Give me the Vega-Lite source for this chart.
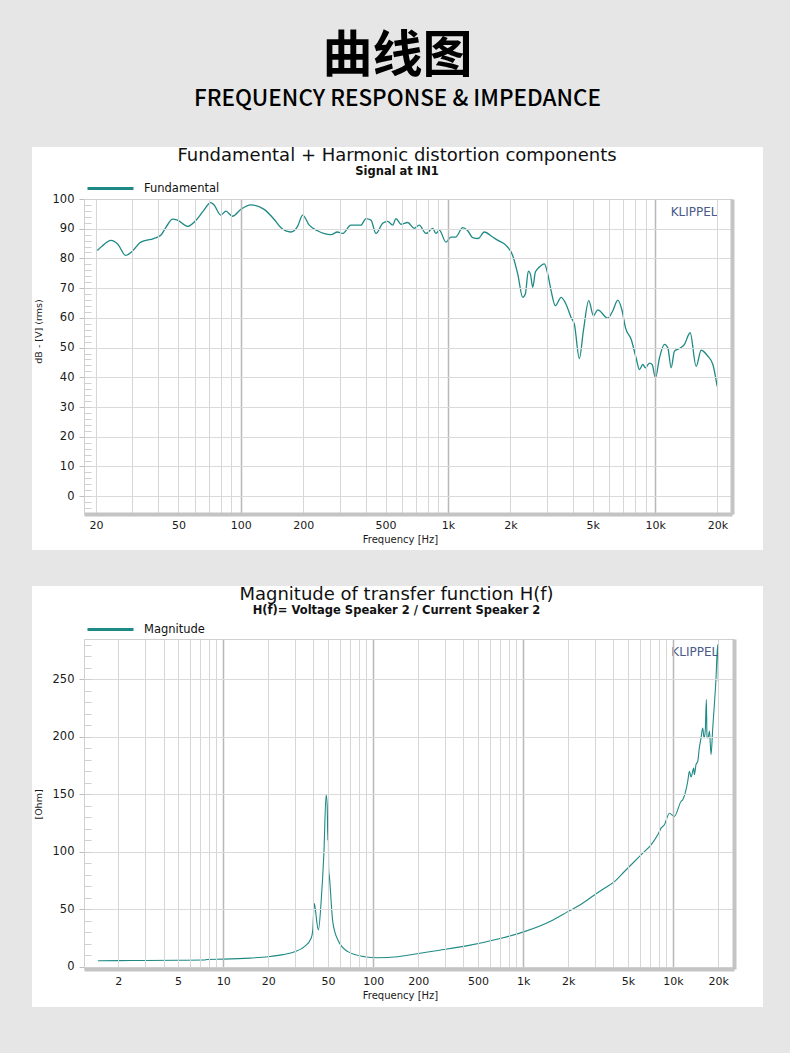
{
  "background": "#e6e6e6",
  "padding": {"left": 31, "right": 28, "top": 31, "bottom": 45},
  "title": {
    "text": "曲线图",
    "subtitle": "FREQUENCY RESPONSE & IMPEDANCE",
    "anchor": "middle",
    "frame": "bounds",
    "font": "Noto Sans CJK SC",
    "fontSize": 50,
    "fontWeight": "bold",
    "color": "#000000",
    "subtitleFont": "Noto Sans CJK SC",
    "subtitleFontSize": 22.5,
    "subtitleFontWeight": 500,
    "subtitleColor": "#000000",
    "subtitlePadding": 6,
    "offset": 36.5
  },
  "config": {
    "view": {"stroke": null},
    "axis": {"labelFont": "DejaVu Sans", "titleFont": "DejaVu Sans", "labelColor": "#1a1a1a", "titleColor": "#1a1a1a", "titleFontWeight": "normal"}
  },
  "spacing": 35,
  "resolve": {"scale": {"x": "independent", "y": "independent", "color": "independent"}, "legend": {"color": "independent"}},
  "vconcat": [
    {
      "width": 648,
      "height": 315,
      "title": {"text": "Fundamental + Harmonic distortion components", "subtitle": "Signal at IN1", "anchor": "middle", "frame": "group", "dx": -11, "offset": -31, "font": "DejaVu Sans", "fontSize": 18, "fontWeight": "normal", "color": "#111111", "subtitleFont": "DejaVu Sans", "subtitleFontSize": 11.5, "subtitleFontWeight": "bold", "subtitleColor": "#111111", "subtitlePadding": 1},
      "data": {"values": [
        {"f": 20.3, "v": 82.7}, {"f": 21.5, "v": 84.3}, {"f": 23.6, "v": 86.1}, {"f": 25.5, "v": 84.8}, {"f": 27.8, "v": 81.0},
        {"f": 30, "v": 82.5}, {"f": 32.9, "v": 85.5}, {"f": 38, "v": 86.7}, {"f": 41.1, "v": 87.8}, {"f": 44, "v": 91.0},
        {"f": 46.8, "v": 93.2}, {"f": 49.4, "v": 92.9}, {"f": 55.3, "v": 90.8}, {"f": 61.8, "v": 93.4}, {"f": 66, "v": 96.0},
        {"f": 71.6, "v": 98.8}, {"f": 74.3, "v": 98.0}, {"f": 80, "v": 94.6}, {"f": 84.7, "v": 95.9}, {"f": 91.2, "v": 94.2},
        {"f": 100, "v": 96.5}, {"f": 111.8, "v": 98.0}, {"f": 129.6, "v": 96.5}, {"f": 145, "v": 93.1}, {"f": 156, "v": 90.4},
        {"f": 174.4, "v": 88.9}, {"f": 188, "v": 90.8}, {"f": 198.7, "v": 94.6}, {"f": 214, "v": 91.2}, {"f": 234.7, "v": 89.3},
        {"f": 272, "v": 88.0}, {"f": 293, "v": 88.9}, {"f": 310, "v": 88.4}, {"f": 340, "v": 91.2}, {"f": 380, "v": 91.2},
        {"f": 402, "v": 93.4}, {"f": 425, "v": 92.9}, {"f": 449, "v": 88.4}, {"f": 484, "v": 91.8}, {"f": 512, "v": 92.5},
        {"f": 541, "v": 91.2}, {"f": 561, "v": 93.4}, {"f": 593, "v": 91.5}, {"f": 639, "v": 92.1}, {"f": 687, "v": 90.1},
        {"f": 727, "v": 91.2}, {"f": 783, "v": 88.4}, {"f": 844, "v": 90.1}, {"f": 875, "v": 88.4}, {"f": 908, "v": 89.5},
        {"f": 978, "v": 85.5}, {"f": 1033, "v": 87.2}, {"f": 1090, "v": 87.2}, {"f": 1177, "v": 90.4}, {"f": 1240, "v": 89.5},
        {"f": 1316, "v": 87.0}, {"f": 1400, "v": 86.7}, {"f": 1497, "v": 88.9}, {"f": 1643, "v": 87.2}, {"f": 1750, "v": 86.0},
        {"f": 1906, "v": 84.4}, {"f": 2053, "v": 81.0}, {"f": 2171, "v": 74.8}, {"f": 2296, "v": 66.9}, {"f": 2363, "v": 68.0},
        {"f": 2443, "v": 75.7}, {"f": 2499, "v": 74.8}, {"f": 2566, "v": 70.3}, {"f": 2642, "v": 75.4}, {"f": 2761, "v": 77.1},
        {"f": 2919, "v": 78.2}, {"f": 3031, "v": 74.8}, {"f": 3145, "v": 69.2}, {"f": 3299, "v": 64.1}, {"f": 3516, "v": 66.9},
        {"f": 3715, "v": 64.6}, {"f": 3929, "v": 60.1}, {"f": 4075, "v": 57.9}, {"f": 4308, "v": 46.3}, {"f": 4504, "v": 55.6},
        {"f": 4782, "v": 65.8}, {"f": 5035, "v": 60.7}, {"f": 5287, "v": 62.7}, {"f": 5908, "v": 59.9}, {"f": 6248, "v": 62.4},
        {"f": 6604, "v": 66.0}, {"f": 6928, "v": 62.4}, {"f": 7190, "v": 56.7}, {"f": 7657, "v": 52.8}, {"f": 8096, "v": 46.5},
        {"f": 8401, "v": 42.6}, {"f": 8722, "v": 44.3}, {"f": 8982, "v": 43.2}, {"f": 9389, "v": 44.8}, {"f": 9672, "v": 44.3},
        {"f": 10037, "v": 39.8}, {"f": 10493, "v": 46.5}, {"f": 11093, "v": 51.1}, {"f": 11519, "v": 49.9}, {"f": 11950, "v": 43.2},
        {"f": 12396, "v": 48.8}, {"f": 13103, "v": 49.7}, {"f": 13853, "v": 51.1}, {"f": 14757, "v": 55.0}, {"f": 15776, "v": 43.7},
        {"f": 16680, "v": 49.1}, {"f": 17970, "v": 47.1}, {"f": 19000, "v": 44.3}, {"f": 19934, "v": 36.9}
      ]},
      "resolve": {"axis": {"x": "independent", "y": "independent"}},
      "layer": [
        {
          "data": {"values": [{}]},
          "mark": {"type": "rect", "fill": "#ffffff"},
          "encoding": {
            "x": {"datum": 9.818, "type": "quantitative", "scale": {"type": "log", "domain": [17.5, 23500], "nice": false}, "axis": null},
            "x2": {"datum": 33170},
            "y": {"datum": 117.5, "type": "quantitative", "scale": {"domain": [-6, 100], "nice": false, "zero": false}, "axis": null},
            "y2": {"datum": -18.114}
          }
        },
        {
          "mark": {"type": "line", "strokeWidth": 1.3, "interpolate": "monotone"},
          "encoding": {
            "x": {"field": "f", "type": "quantitative", "scale": {"type": "log", "domain": [17.5, 23500], "nice": false},
              "axis": {"orient": "bottom", "zindex": 1, "values": [20,30,40,50,60,70,80,90,100,200,300,400,500,600,700,800,900,1000,2000,3000,4000,5000,6000,7000,8000,9000,10000,20000],
                "labelExpr": "indexof([20,50,100,200,500,1000,2000,5000,10000,20000], datum.value) >= 0 ? (datum.value >= 1000 ? (datum.value / 1000) + 'k' : '' + datum.value) : ''",
                "labelOverlap": false, "labelFlush": false, "labelBound": false, "labelFontSize": 11, "labelPadding": 5,
                "grid": true,
                "gridColor": {"condition": {"test": "datum.value == 100 || datum.value == 1000 || datum.value == 10000", "value": "#b8b8b8"}, "value": "#d6d6d6"},
                "gridWidth": {"condition": {"test": "datum.value == 100 || datum.value == 1000 || datum.value == 10000", "value": 1.5}, "value": 1},
                "ticks": false, "domain": true, "domainColor": "#c4c4c4", "domainWidth": 4,
                "title": "Frequency [Hz]", "titleFontSize": 10, "titlePadding": 4, "titleX": 316}},
            "y": {"field": "v", "type": "quantitative", "scale": {"domain": [-6, 100], "nice": false, "zero": false},
              "axis": {"orient": "left", "zindex": 1, "values": [0,10,20,30,40,50,60,70,80,90,100], "grid": true, "gridColor": "#dadada",
                "ticks": true, "tickSize": 5, "tickColor": "#bdbdbd", "domain": true, "domainColor": "#d0d0d0", "domainWidth": 1,
                "labelFontSize": 11.5, "labelPadding": 5, "title": "dB - [V] (rms)", "titleFontSize": 9.5, "titlePadding": 9, "titleY": 132}},
            "color": {"datum": "Fundamental", "type": "nominal", "scale": {"range": ["#1f8a85"]},
              "legend": {"orient": "none", "legendX": 2, "legendY": -35, "title": null, "symbolType": "stroke", "symbolSize": 2116, "symbolStrokeWidth": 3, "labelFont": "DejaVu Sans", "labelFontSize": 11.5, "labelColor": "#111111", "labelOffset": 9}}
          }
        },
        {
          "mark": {"type": "point", "opacity": 0},
          "encoding": {
            "x": {"field": "f", "type": "quantitative", "scale": {"type": "log", "domain": [17.5, 23500], "nice": false},
              "axis": {"orient": "top", "zindex": 1, "domain": true, "domainColor": "#d0d0d0", "domainWidth": 1, "ticks": false, "labels": false, "grid": false, "title": null}},
            "y": {"field": "v", "type": "quantitative", "scale": {"domain": [-6, 100], "nice": false, "zero": false},
              "axis": {"orient": "right", "zindex": 1, "domain": true, "domainColor": "#c4c4c4", "domainWidth": 4, "ticks": false, "labels": false, "grid": false, "title": null}}
          }
        },
        {
          "mark": {"type": "point", "opacity": 0},
          "encoding": {
            "x": {"field": "f", "type": "quantitative", "scale": {"type": "log", "domain": [17.5, 23500], "nice": false}, "axis": null},
            "y": {"field": "v", "type": "quantitative", "scale": {"domain": [-6, 100], "nice": false, "zero": false},
              "axis": {"orient": "left", "zindex": 1, "offset": -7, "values": [-4,-2,0,2,4,6,8,10,12,14,16,18,20,22,24,26,28,30,32,34,36,38,40,42,44,46,48,50,52,54,56,58,60,62,64,66,68,70,72,74,76,78,80,82,84,86,88,90,92,94,96,98],
                "ticks": true, "tickSize": 7, "tickColor": "#cfcfcf", "domain": false, "labels": false, "grid": false, "title": null}}
          }
        },
        {
          "data": {"values": [{}]},
          "mark": {"type": "text", "text": "KLIPPEL", "align": "right", "baseline": "middle", "font": "DejaVu Sans", "fontSize": 12, "color": "#4a5a8a"},
          "encoding": {
            "x": {"datum": 20000, "type": "quantitative", "scale": {"type": "log", "domain": [17.5, 23500], "nice": false}, "axis": null},
            "y": {"datum": 95.7, "type": "quantitative", "scale": {"domain": [-6, 100], "nice": false, "zero": false}, "axis": null}
          }
        }
      ]
    },
    {
      "width": 650,
      "height": 330,
      "title": {"text": "Magnitude of transfer function H(f)", "subtitle": "H(f)= Voltage Speaker 2 / Current Speaker 2", "anchor": "middle", "frame": "group", "dx": -12.5, "offset": -31, "font": "DejaVu Sans", "fontSize": 18, "fontWeight": "normal", "color": "#111111", "subtitleFont": "DejaVu Sans", "subtitleFontSize": 11.5, "subtitleFontWeight": "bold", "subtitleColor": "#111111", "subtitlePadding": 1},
      "data": {"values": [
        {"f": 1.46, "v": 5.2}, {"f": 2, "v": 5.3}, {"f": 3, "v": 5.4}, {"f": 5, "v": 5.6}, {"f": 7.5, "v": 5.8},
        {"f": 7.8, "v": 6.3}, {"f": 10, "v": 6.6}, {"f": 15, "v": 7.5}, {"f": 20, "v": 8.7}, {"f": 25, "v": 10.5},
        {"f": 30, "v": 13.0}, {"f": 34.8, "v": 17.4}, {"f": 38.6, "v": 24.7}, {"f": 39.6, "v": 32.0}, {"f": 40.0, "v": 44.0},
        {"f": 40.5, "v": 55.0}, {"f": 41.2, "v": 50.0}, {"f": 42.2, "v": 38.0}, {"f": 43.2, "v": 32.0}, {"f": 45, "v": 56.6},
        {"f": 46.9, "v": 97.3}, {"f": 48.6, "v": 149.6}, {"f": 49.4, "v": 140.0}, {"f": 49.9, "v": 110.0}, {"f": 50.2, "v": 131.0},
        {"f": 50.5, "v": 85.0}, {"f": 51.2, "v": 76.9}, {"f": 53.8, "v": 39.2}, {"f": 58.2, "v": 23.2}, {"f": 67.8, "v": 13.1},
        {"f": 87.5, "v": 8.7}, {"f": 107, "v": 7.8}, {"f": 146, "v": 8.7}, {"f": 170, "v": 10.0}, {"f": 256, "v": 13.7},
        {"f": 428, "v": 18.3}, {"f": 713, "v": 24.7}, {"f": 1020, "v": 30.5}, {"f": 1537, "v": 39.8}, {"f": 1986, "v": 47.9},
        {"f": 2438, "v": 54.3}, {"f": 2990, "v": 62.4}, {"f": 3486, "v": 68.2}, {"f": 4064, "v": 74.0}, {"f": 4740, "v": 82.8},
        {"f": 5527, "v": 91.5}, {"f": 6280, "v": 98.7}, {"f": 7135, "v": 106.0}, {"f": 7907, "v": 114.7}, {"f": 8318, "v": 120.5},
        {"f": 8750, "v": 123.4}, {"f": 9455, "v": 133.5}, {"f": 10210, "v": 130.7}, {"f": 11300, "v": 143.7}, {"f": 11610, "v": 145.2},
        {"f": 12530, "v": 161.1}, {"f": 12850, "v": 169.9}, {"f": 13180, "v": 165.0}, {"f": 13740, "v": 172.7}, {"f": 13870, "v": 167.0},
        {"f": 14230, "v": 175.7}, {"f": 14610, "v": 178.6}, {"f": 14970, "v": 190.2}, {"f": 15370, "v": 198.9}, {"f": 15770, "v": 207.6},
        {"f": 16100, "v": 199.0}, {"f": 16400, "v": 205.0}, {"f": 16680, "v": 232.3}, {"f": 16850, "v": 200.0}, {"f": 17120, "v": 198.9},
        {"f": 17500, "v": 205.0}, {"f": 17920, "v": 184.4}, {"f": 18400, "v": 207.6}, {"f": 18860, "v": 228.0}, {"f": 19300, "v": 248.0},
        {"f": 19860, "v": 280.2}, {"f": 20050, "v": 248.3}
      ]},
      "resolve": {"axis": {"x": "independent", "y": "independent"}},
      "layer": [
        {
          "data": {"values": [{}]},
          "mark": {"type": "rect", "fill": "#ffffff"},
          "encoding": {
            "x": {"datum": 0.531, "type": "quantitative", "scale": {"type": "log", "domain": [1.18, 25500], "nice": false}, "axis": null},
            "x2": {"datum": 39815},
            "y": {"datum": 331.1, "type": "quantitative", "scale": {"domain": [-2, 285], "nice": false, "zero": false}, "axis": null},
            "y2": {"datum": -35.05}
          }
        },
        {
          "mark": {"type": "line", "strokeWidth": 1.1, "interpolate": "monotone"},
          "encoding": {
            "x": {"field": "f", "type": "quantitative", "scale": {"type": "log", "domain": [1.18, 25500], "nice": false},
              "axis": {"orient": "bottom", "zindex": 1, "values": [2,3,4,5,6,7,8,9,10,20,30,40,50,60,70,80,90,100,200,300,400,500,600,700,800,900,1000,2000,3000,4000,5000,6000,7000,8000,9000,10000,20000],
                "labelExpr": "indexof([2,5,10,20,50,100,200,500,1000,2000,5000,10000,20000], datum.value) >= 0 ? (datum.value >= 1000 ? (datum.value / 1000) + 'k' : '' + datum.value) : ''",
                "labelOverlap": false, "labelFlush": false, "labelBound": false, "labelFontSize": 11, "labelPadding": 6,
                "grid": true,
                "gridColor": {"condition": {"test": "datum.value == 10 || datum.value == 100 || datum.value == 1000 || datum.value == 10000", "value": "#b8b8b8"}, "value": "#d6d6d6"},
                "gridWidth": {"condition": {"test": "datum.value == 10 || datum.value == 100 || datum.value == 1000 || datum.value == 10000", "value": 1.5}, "value": 1},
                "ticks": false, "domain": true, "domainColor": "#c4c4c4", "domainWidth": 4,
                "title": "Frequency [Hz]", "titleFontSize": 10, "titlePadding": 4, "titleX": 316}},
            "y": {"field": "v", "type": "quantitative", "scale": {"domain": [-2, 285], "nice": false, "zero": false},
              "axis": {"orient": "left", "zindex": 1, "values": [0,50,100,150,200,250], "grid": true, "gridColor": "#dadada",
                "ticks": true, "tickSize": 5, "tickColor": "#bdbdbd", "domain": true, "domainColor": "#d0d0d0", "domainWidth": 1,
                "labelFontSize": 11.5, "labelPadding": 5, "title": "[Ohm]", "titleFontSize": 9.5, "titlePadding": 9}},
            "color": {"datum": "Magnitude", "type": "nominal", "scale": {"range": ["#1f8a85"]},
              "legend": {"orient": "none", "legendX": 2, "legendY": -34, "title": null, "symbolType": "stroke", "symbolSize": 2116, "symbolStrokeWidth": 3, "labelFont": "DejaVu Sans", "labelFontSize": 11.5, "labelColor": "#111111", "labelOffset": 9}}
          }
        },
        {
          "mark": {"type": "point", "opacity": 0},
          "encoding": {
            "x": {"field": "f", "type": "quantitative", "scale": {"type": "log", "domain": [1.18, 25500], "nice": false},
              "axis": {"orient": "top", "zindex": 1, "domain": true, "domainColor": "#d0d0d0", "domainWidth": 1, "ticks": false, "labels": false, "grid": false, "title": null}},
            "y": {"field": "v", "type": "quantitative", "scale": {"domain": [-2, 285], "nice": false, "zero": false},
              "axis": {"orient": "right", "zindex": 1, "domain": true, "domainColor": "#c4c4c4", "domainWidth": 4, "ticks": false, "labels": false, "grid": false, "title": null}}
          }
        },
        {
          "mark": {"type": "point", "opacity": 0},
          "encoding": {
            "x": {"field": "f", "type": "quantitative", "scale": {"type": "log", "domain": [1.18, 25500], "nice": false}, "axis": null},
            "y": {"field": "v", "type": "quantitative", "scale": {"domain": [-2, 285], "nice": false, "zero": false},
              "axis": {"orient": "left", "zindex": 1, "offset": -7, "values": [0,10,20,30,40,50,60,70,80,90,100,110,120,130,140,150,160,170,180,190,200,210,220,230,240,250,260,270,280],
                "ticks": true, "tickSize": 7, "tickColor": "#cfcfcf", "domain": false, "labels": false, "grid": false, "title": null}}
          }
        },
        {
          "data": {"values": [{}]},
          "mark": {"type": "text", "text": "KLIPPEL", "align": "right", "baseline": "middle", "font": "DejaVu Sans", "fontSize": 12, "color": "#4a5a8a"},
          "encoding": {
            "x": {"datum": 20000, "type": "quantitative", "scale": {"type": "log", "domain": [1.18, 25500], "nice": false}, "axis": null},
            "y": {"datum": 273.5, "type": "quantitative", "scale": {"domain": [-2, 285], "nice": false, "zero": false}, "axis": null}
          }
        }
      ]
    }
  ]
}
